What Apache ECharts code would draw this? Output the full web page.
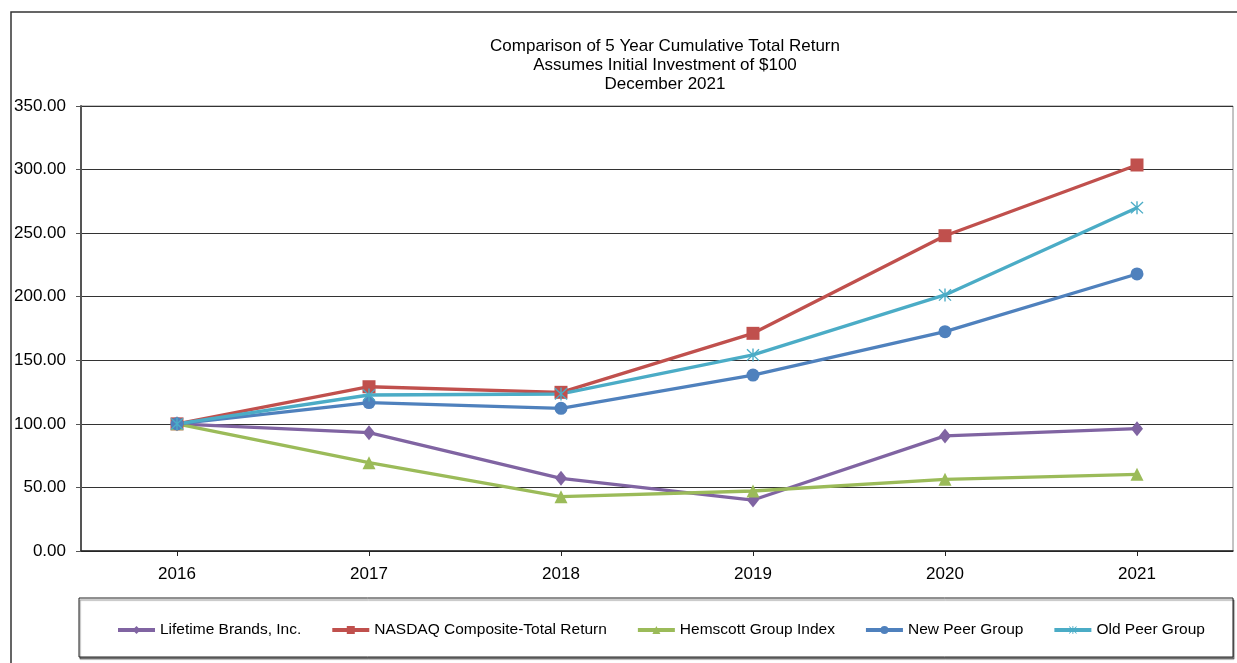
<!DOCTYPE html>
<html><head><meta charset="utf-8">
<script src="https://cdn.jsdelivr.net/npm/echarts@6/dist/echarts.min.js"></script>
<style>html,body{margin:0;padding:0;background:#fff}#c{width:1237px;height:663px}</style>
</head><body><div id="c"></div>
<script>
const years = ['2016','2017','2018','2019','2020','2021'];
const lifetime = [100, 93.1, 57.2, 40.1, 90.5, 96.2];
const nasdaq = [100, 129.2, 124.8, 171.2, 248.0, 303.6];
const hemscott = [100, 69.5, 42.7, 47.2, 56.4, 60.3];
const newPeer = [100, 116.7, 112.2, 138.4, 172.5, 217.9];
const oldPeer = [100, 122.7, 123.5, 154.2, 201.4, 270.0];
const titleLines = ['Comparison of 5 Year Cumulative Total Return','Assumes Initial Investment of $100','December 2021'];

const FONT = '"Liberation Sans", Arial, sans-serif';
const star = 'path://M9,0L11,0L11,20L9,20Z M2,0.6L19.4,18L18,19.4L0.6,2Z M18,0.6L19.4,2L2,19.4L0.6,18Z';

function mk(name, data, color, symbol, size){
  return {name, type:'line', data, color, symbol, symbolSize:size,
    lineStyle:{width:3.3,color}, itemStyle:{color}, z: 2};
}
const chart = echarts.init(document.getElementById('c'));
chart.setOption({
  animation:false,
  backgroundColor:'#fff',
  textStyle:{fontFamily:FONT},
  graphic:[
    {type:'rect', shape:{x:11,y:12,width:1240,height:700}, style:{fill:'none',stroke:'#333',lineWidth:1.5}, z:-10},
    {type:'rect', shape:{x:79,y:598,width:1154,height:59}, style:{fill:'#fff',stroke:'#222',lineWidth:1,shadowColor:'rgba(0,0,0,0.45)',shadowOffsetX:1,shadowOffsetY:2,shadowBlur:1}, z:-5},
    {type:'text', x:665, y:46, style:{text:titleLines[0], font:'17px '+FONT, fill:'#000', align:'center', verticalAlign:'middle'}},
    {type:'text', x:665, y:65, style:{text:titleLines[1], font:'17px '+FONT, fill:'#000', align:'center', verticalAlign:'middle'}},
    {type:'text', x:665, y:84, style:{text:titleLines[2], font:'17px '+FONT, fill:'#000', align:'center', verticalAlign:'middle'}}
  ],
  grid:{left:81, right:4, top:106, bottom:112, show:true, borderColor:'#888', borderWidth:1},
  legend:{left:111, top:617, itemWidth:37, itemHeight:10, itemGap:29,
    lineStyle:{width:4},
    textStyle:{fontSize:15.5, color:'#000', fontFamily:FONT},
    data:['Lifetime Brands, Inc.','NASDAQ Composite-Total Return','Hemscott Group Index','New Peer Group','Old Peer Group']},
  xAxis:{type:'category', data:years, boundaryGap:true,
    axisLine:{lineStyle:{color:'#222',width:1.5}},
    axisTick:{show:true, alignWithLabel:true, length:5, lineStyle:{color:'#222'}},
    axisLabel:{fontSize:17, color:'#000', margin:15, fontFamily:FONT}},
  yAxis:{type:'value', min:0, max:350, interval:50,
    axisLine:{show:true, lineStyle:{color:'#555',width:2}},
    axisTick:{show:true, length:5, lineStyle:{color:'#555'}},
    splitLine:{lineStyle:{color:'#333',width:1}},
    axisLabel:{fontSize:17, color:'#000', margin:15, fontFamily:FONT, formatter:v=>v.toFixed(2)}},
  series:[
    mk('Lifetime Brands, Inc.', lifetime, '#8064A2', 'diamond', [12,15]),
    mk('NASDAQ Composite-Total Return', nasdaq, '#C0504D', 'rect', 13),
    mk('Hemscott Group Index', hemscott, '#9BBB59', 'triangle', 13),
    mk('New Peer Group', newPeer, '#4F81BD', 'circle', 13),
    mk('Old Peer Group', oldPeer, '#4BACC6', star, 13)
  ]
});
</script></body></html>
